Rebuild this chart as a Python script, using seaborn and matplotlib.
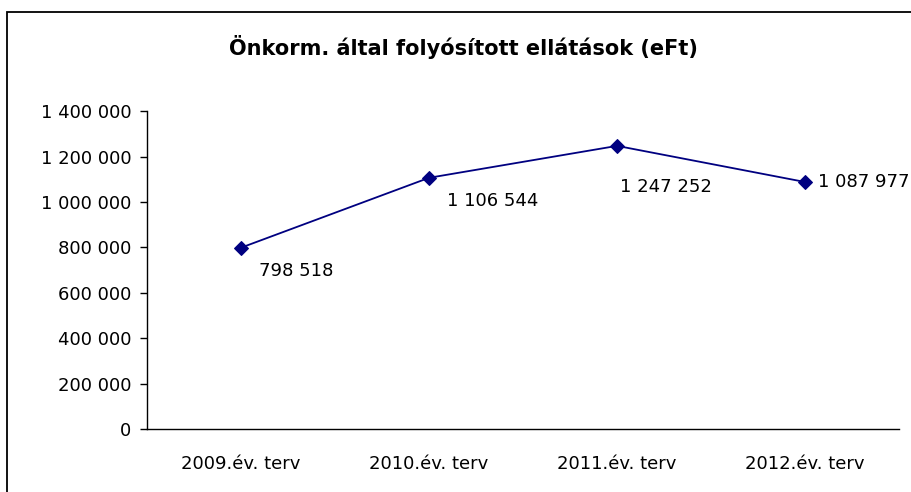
import matplotlib
matplotlib.use("Agg")
import matplotlib.pyplot as plt
import seaborn as sns
import pandas as pd
from matplotlib.patches import Rectangle
from matplotlib.ticker import FuncFormatter, FixedLocator

categories = ["2009.év. terv", "2010.év. terv", "2011.év. terv", "2012.év. terv"]
values = [798518, 1106544, 1247252, 1087977]
label_offsets = [(13, -17), (13, -17), (2, -29.5), (9, 0)]

sns.set_theme(style="white")
plt.rcParams["font.family"] = ["DejaVu Sans"]
plt.rcParams["text.color"] = "black"
plt.rcParams["xtick.color"] = "black"
plt.rcParams["ytick.color"] = "black"

df = pd.DataFrame({"kat": categories, "ertek": values})

fig = plt.figure(figsize=(9.12, 4.92), dpi=100)
ax = fig.add_axes([0.161, 0.128, 0.825, 0.646])

sns.lineplot(data=df, x="kat", y="ertek", ax=ax, color="#000080",
             marker="D", markersize=7, markeredgecolor="#000080",
             linewidth=1.3, sort=False)

for i, (v, off) in enumerate(zip(values, label_offsets)):
    txt = f"{v:,}".replace(",", " ")
    ax.annotate(txt, (i, v), xytext=off, textcoords="offset points",
                ha="left", va="center", fontsize=13, color="black",
                annotation_clip=False)

ax.set_xlim(-0.5, 3.5)
ax.set_ylim(0, 1400000)
ax.set_yticks(range(0, 1400001, 200000))
ax.yaxis.set_major_formatter(FuncFormatter(lambda v, p: f"{int(v):,}".replace(",", " ")))
ax.xaxis.set_minor_locator(FixedLocator([-0.5, 0.5, 1.5, 2.5, 3.5]))
ax.tick_params(axis="x", which="major", length=0, pad=19, labelsize=13)
ax.tick_params(axis="x", which="minor", length=5, direction="out", color="black", width=1)
ax.tick_params(axis="y", length=5, direction="out", color="black", width=1,
               labelsize=13, left=True, pad=6)
ax.set_xlabel("")
ax.set_ylabel("")

for s in ["top", "right"]:
    ax.spines[s].set_visible(False)
for s in ["left", "bottom"]:
    ax.spines[s].set_color("black")
    ax.spines[s].set_linewidth(1)

fig.text(0.508, 0.905, "Önkorm. által folyósított ellátások (eFt)",
         ha="center", va="center", fontsize=15, fontweight="bold", color="black")

fig.patches.append(Rectangle((7 / 912, -0.2), 1.2, 1 - 12 / 492 + 0.2,
                             transform=fig.transFigure, fill=False,
                             edgecolor="black", linewidth=1.3))

fig.savefig("out.png", dpi=100)
